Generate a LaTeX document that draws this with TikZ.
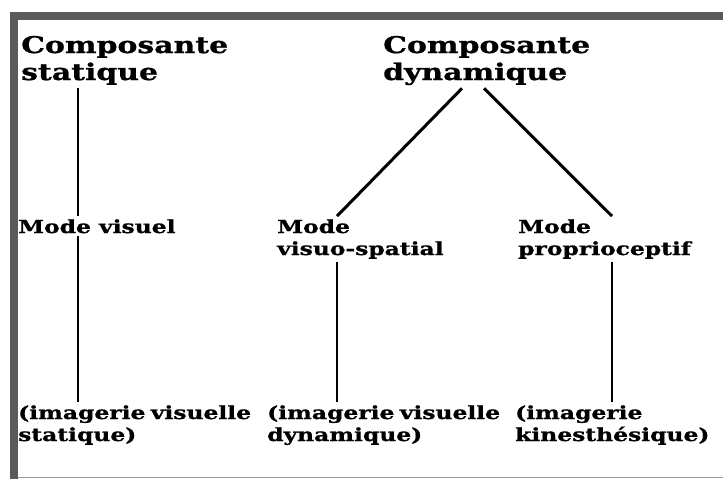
\documentclass[tikz,border=0pt]{standalone}
\usepackage{fontspec}
\setmainfont{DejaVu Serif}[FakeStretch=1.3, FakeBold=1]
\usepackage{tikz}
\usetikzlibrary{calc}
\definecolor{framegray}{HTML}{5A5A5A}
\tikzset{
	bigtext/.style={inner xsep=0pt, inner ysep=3pt, anchor=base west, align=left, font=\fontsize{23}{27}\selectfont\bfseries},
	smalltext/.style={inner xsep=0pt, inner ysep=3pt, anchor=base west, align=left, font=\fontsize{18}{22}\selectfont\bfseries},
	stem/.style={line width=1.3pt},
	branch/.style={line width=3pt}
}

\begin{document}
\begin{tikzpicture}[x=1pt, y=-1pt]
			%%%%% START %%%%%
			
			\useasboundingbox[fill=white] (0, 0) rectangle (723, 479);
			
			\fill[framegray] (10, 12) rectangle (723, 20);
			\fill[framegray] (10, 12) rectangle (18, 479);
			\draw[line width=1.2pt, color=black!40] (18, 477.5) -- (723, 477.5);
			
			% multi-line nodes sit on the baseline of their last line
			\node[bigtext] (stat) at (21, 80) {Composante\\statique};
			\node[bigtext] (dyn) at (383, 80) {Composante\\dynamique};
			
			\node[smalltext] (visuel) at (18, 233) {Mode visuel};
			\node[smalltext] (vispat) at (277, 255) {Mode\\visuo-spatial};
			\node[smalltext] (proprio) at (518, 255) {Mode\\proprioceptif};
			
			\node[smalltext] (imgstat) at (18, 441) {\makebox[232pt][s]{(imagerie visuelle}\\statique)};
			\node[smalltext] (imgdyn) at (267, 441) {\makebox[232pt][s]{(imagerie visuelle}\\dynamique)};
			\node[smalltext] (imgkin) at (515, 441) {(imagerie\\kinesthésique)};
			
			\coordinate (colA) at (78, 0);
			\coordinate (colB) at (337, 0);
			\coordinate (colC) at (612, 0);
			\coordinate (forkL) at (462, 0);
			\coordinate (forkR) at (484, 0);
			
			\draw[stem] (stat.south -| colA) -- (visuel.north -| colA);
			\draw[stem] (visuel.south -| colA) -- (imgstat.north -| colA);
			
			\draw[branch] (dyn.south -| forkL) -- (vispat.north -| colB);
			\draw[branch] (dyn.south -| forkR) -- (proprio.north -| colC);
			
			\draw[stem] (vispat.south -| colB) -- (imgdyn.north -| colB);
			\draw[stem] (proprio.south -| colC) -- (imgkin.north -| colC);
			
			%%%%% END %%%%%
\end{tikzpicture}
\end{document}
